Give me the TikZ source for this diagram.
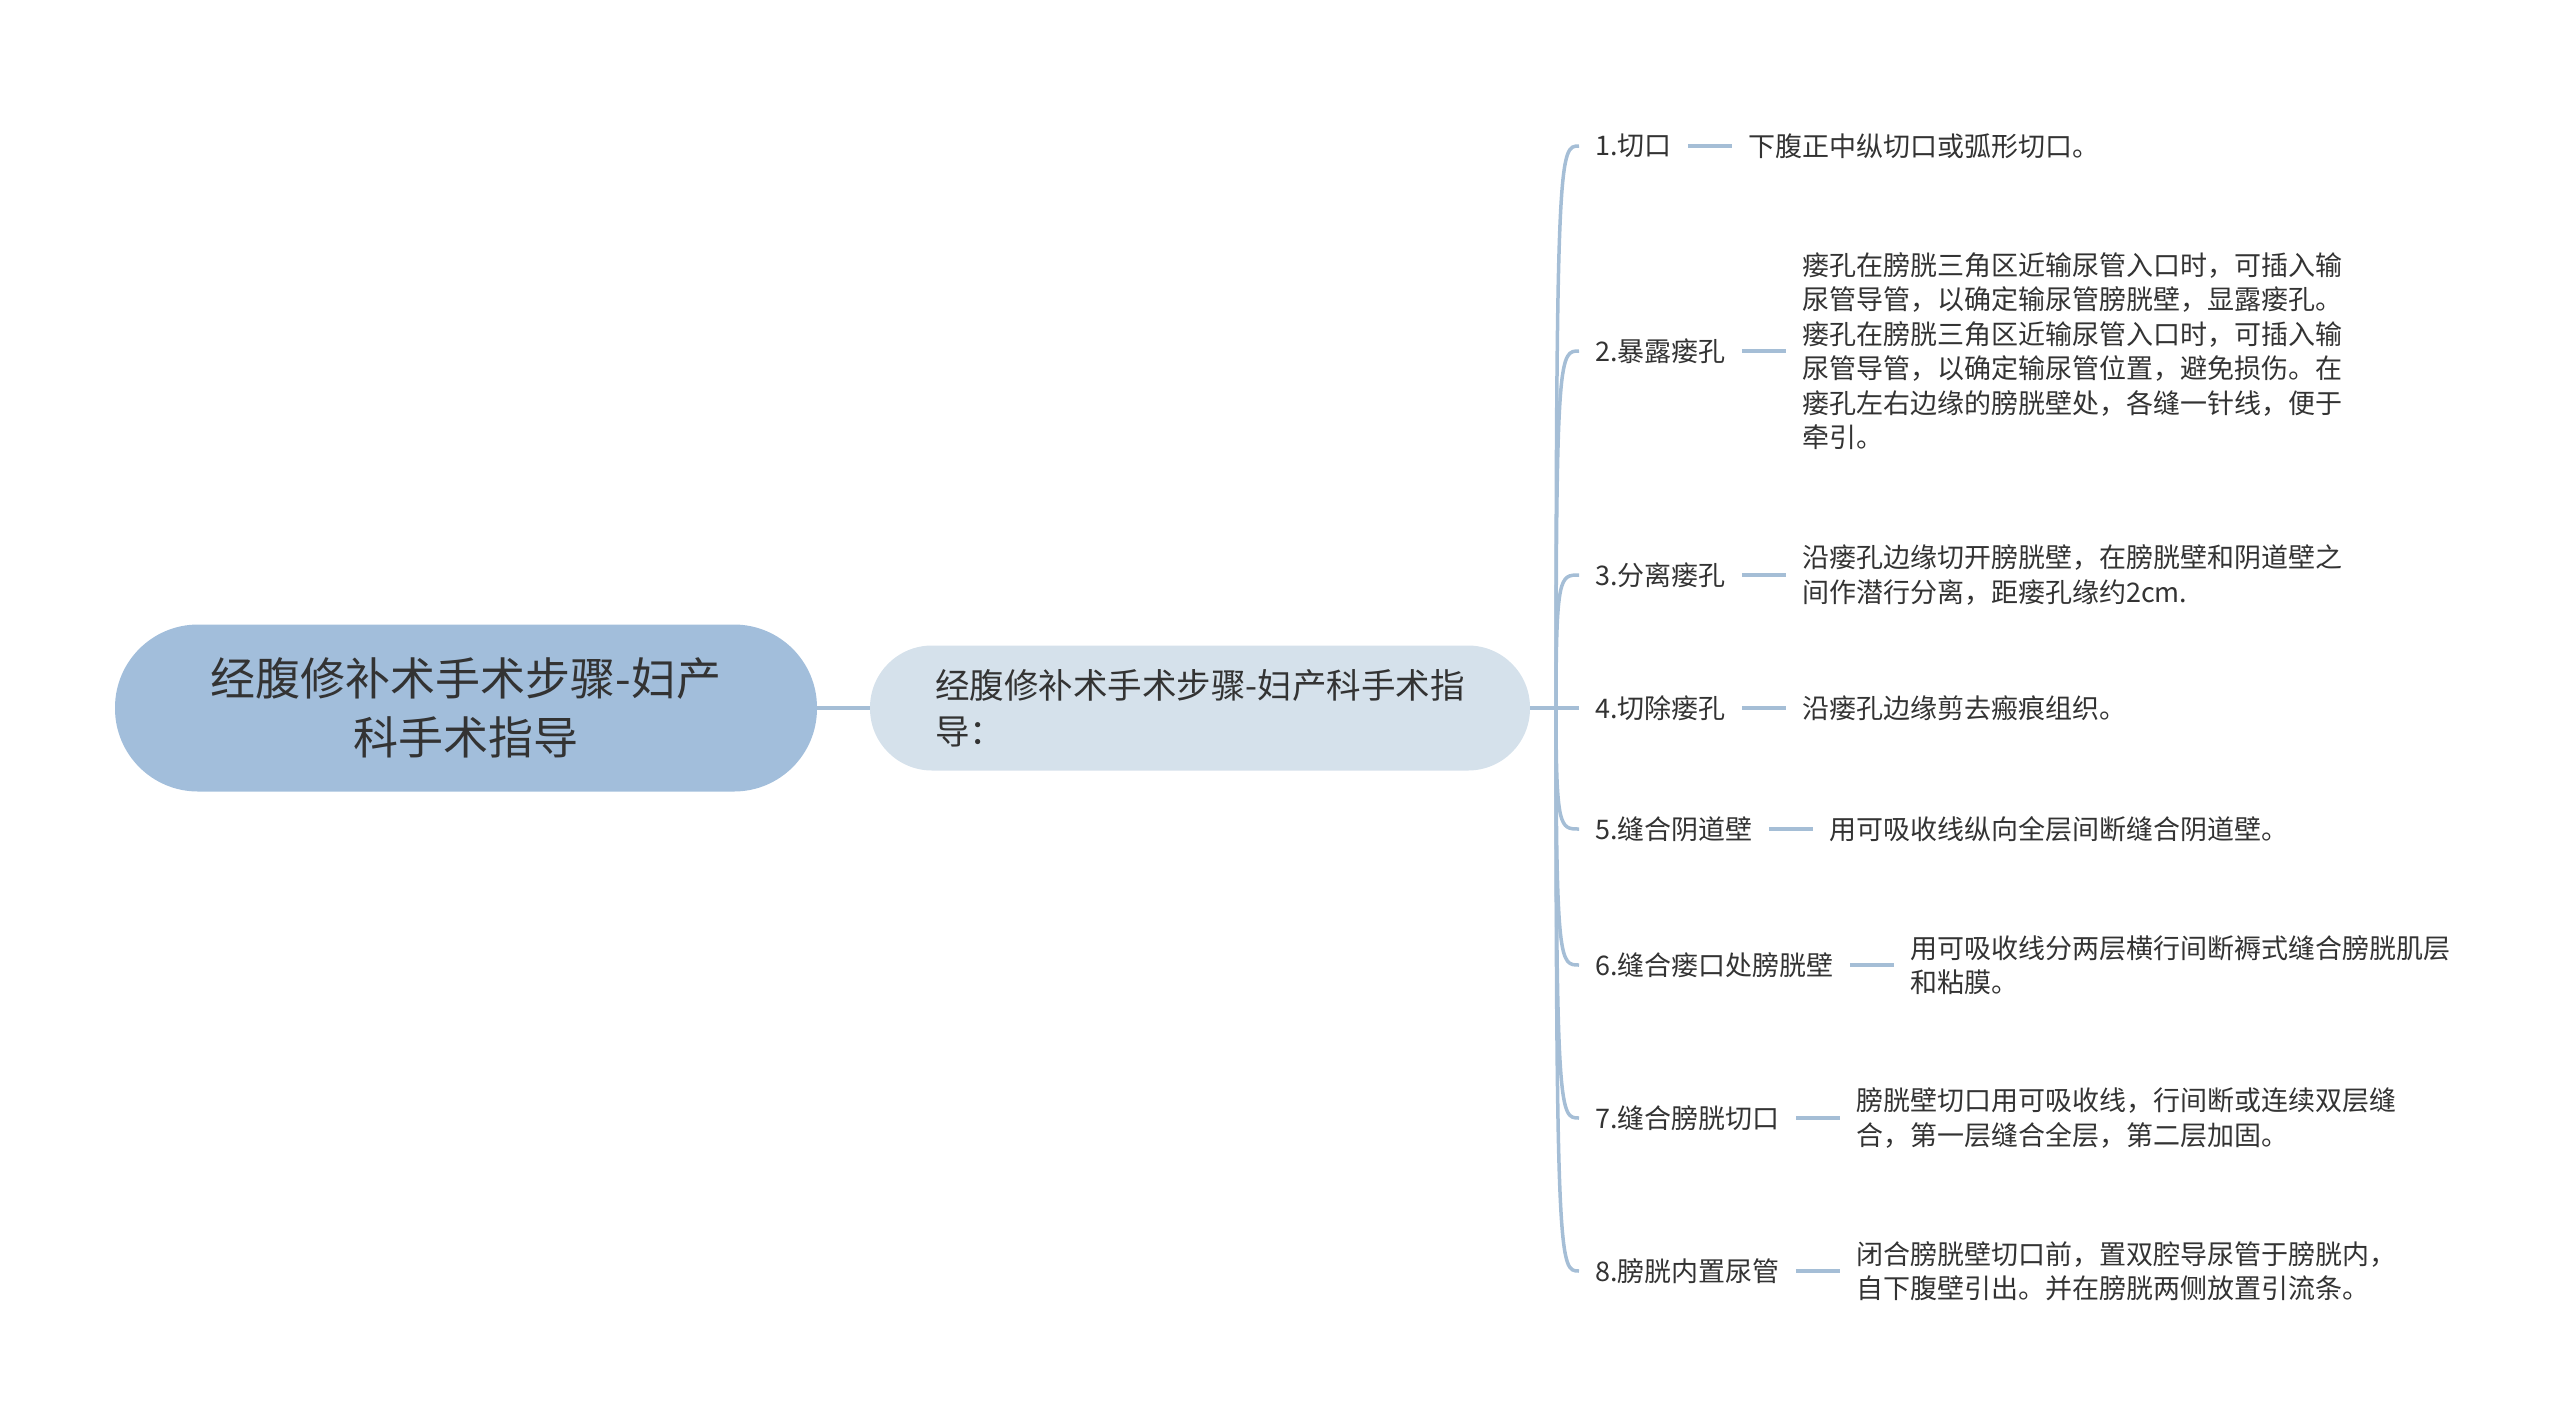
\documentclass[tikz,border=0pt]{standalone}
\usepackage{fontspec}
\setmainfont{Noto Sans CJK SC}
\usepackage{tikz}
\usetikzlibrary{positioning}

\definecolor{rootblue}{HTML}{A2BEDB}
\definecolor{subblue}{HTML}{D5E1EB}
\definecolor{linkblue}{HTML}{A5BED6}
\definecolor{inkgray}{HTML}{333333}

\tikzset{
	rootbox/.style={fill=rootblue, rounded corners=83pt, minimum width=702pt,
		minimum height=167pt, align=center, text=inkgray,
		font=\fontsize{45}{59}\selectfont},
	subbox/.style={fill=subblue, rounded corners=62pt, minimum width=660pt,
		minimum height=125pt, align=left, text=inkgray,
		font=\fontsize{34.5}{46}\selectfont},
	stepname/.style={anchor=west, inner xsep=16pt, inner ysep=0pt, text=inkgray,
		font=\fontsize{27}{34.5}\selectfont},
	stepnote/.style={inner xsep=16pt, inner ysep=0pt, align=left, text=inkgray,
		font=\fontsize{27}{34.5}\selectfont},
	link/.style={draw=linkblue, line width=3.5pt},
}

\begin{document}
\begin{tikzpicture}[x=1pt,y=-1pt]
\useasboundingbox (0,0) rectangle (2560,1425);
\path (466,708) node[rootbox](root) {经腹修补术手术步骤-妇产\\科手术指导}
		(1200,708) node[subbox](sub) {经腹修补术手术步骤-妇产科手术指\\导：}
		;
\coordinate (hub) at (1556,708);
% steps
\path (1579,146) node[stepname](s1) {1.切口}
		(1579,351) node[stepname](s2) {2.暴露瘘孔}
		(1579,575) node[stepname](s3) {3.分离瘘孔}
		(1579,708) node[stepname](s4) {4.切除瘘孔}
		(1579,829) node[stepname](s5) {5.缝合阴道壁}
		(1579,965) node[stepname](s6) {6.缝合瘘口处膀胱壁}
		(1579,1118) node[stepname](s7) {7.缝合膀胱切口}
		(1579,1271) node[stepname](s8) {8.膀胱内置尿管}
		;
% notes
\node[stepnote, right=44pt of s1](n1) {下腹正中纵切口或弧形切口。};
\node[stepnote, right=44pt of s2](n2) {瘘孔在膀胱三角区近输尿管入口时，可插入输\\尿管导管，以确定输尿管膀胱壁，显露瘘孔。\\瘘孔在膀胱三角区近输尿管入口时，可插入输\\尿管导管，以确定输尿管位置，避免损伤。在\\瘘孔左右边缘的膀胱壁处，各缝一针线，便于\\牵引。};
\node[stepnote, right=44pt of s3](n3) {沿瘘孔边缘切开膀胱壁，在膀胱壁和阴道壁之\\间作潜行分离，距瘘孔缘约2cm.};
\node[stepnote, right=44pt of s4](n4) {沿瘘孔边缘剪去瘢痕组织。};
\node[stepnote, right=44pt of s5](n5) {用可吸收线纵向全层间断缝合阴道壁。};
\node[stepnote, right=44pt of s6](n6) {用可吸收线分两层横行间断褥式缝合膀胱肌层\\和粘膜。};
\node[stepnote, right=44pt of s7](n7) {膀胱壁切口用可吸收线，行间断或连续双层缝\\合，第一层缝合全层，第二层加固。};
\node[stepnote, right=44pt of s8](n8) {闭合膀胱壁切口前，置双腔导尿管于膀胱内，\\自下腹壁引出。并在膀胱两侧放置引流条。};

\draw[link] (root) -- (sub);
\draw[link] (sub.east) -- (hub);
\foreach \i/\y in {1/146,2/351,3/575,4/708,5/829,6/965,7/1118,8/1271}
	\draw[link] (hub) .. controls (1556,\y) and (1560,\y) .. (s\i.west);
\foreach \i in {1,...,8}
	\draw[link] (s\i) -- (n\i);
\end{tikzpicture}
\end{document}
